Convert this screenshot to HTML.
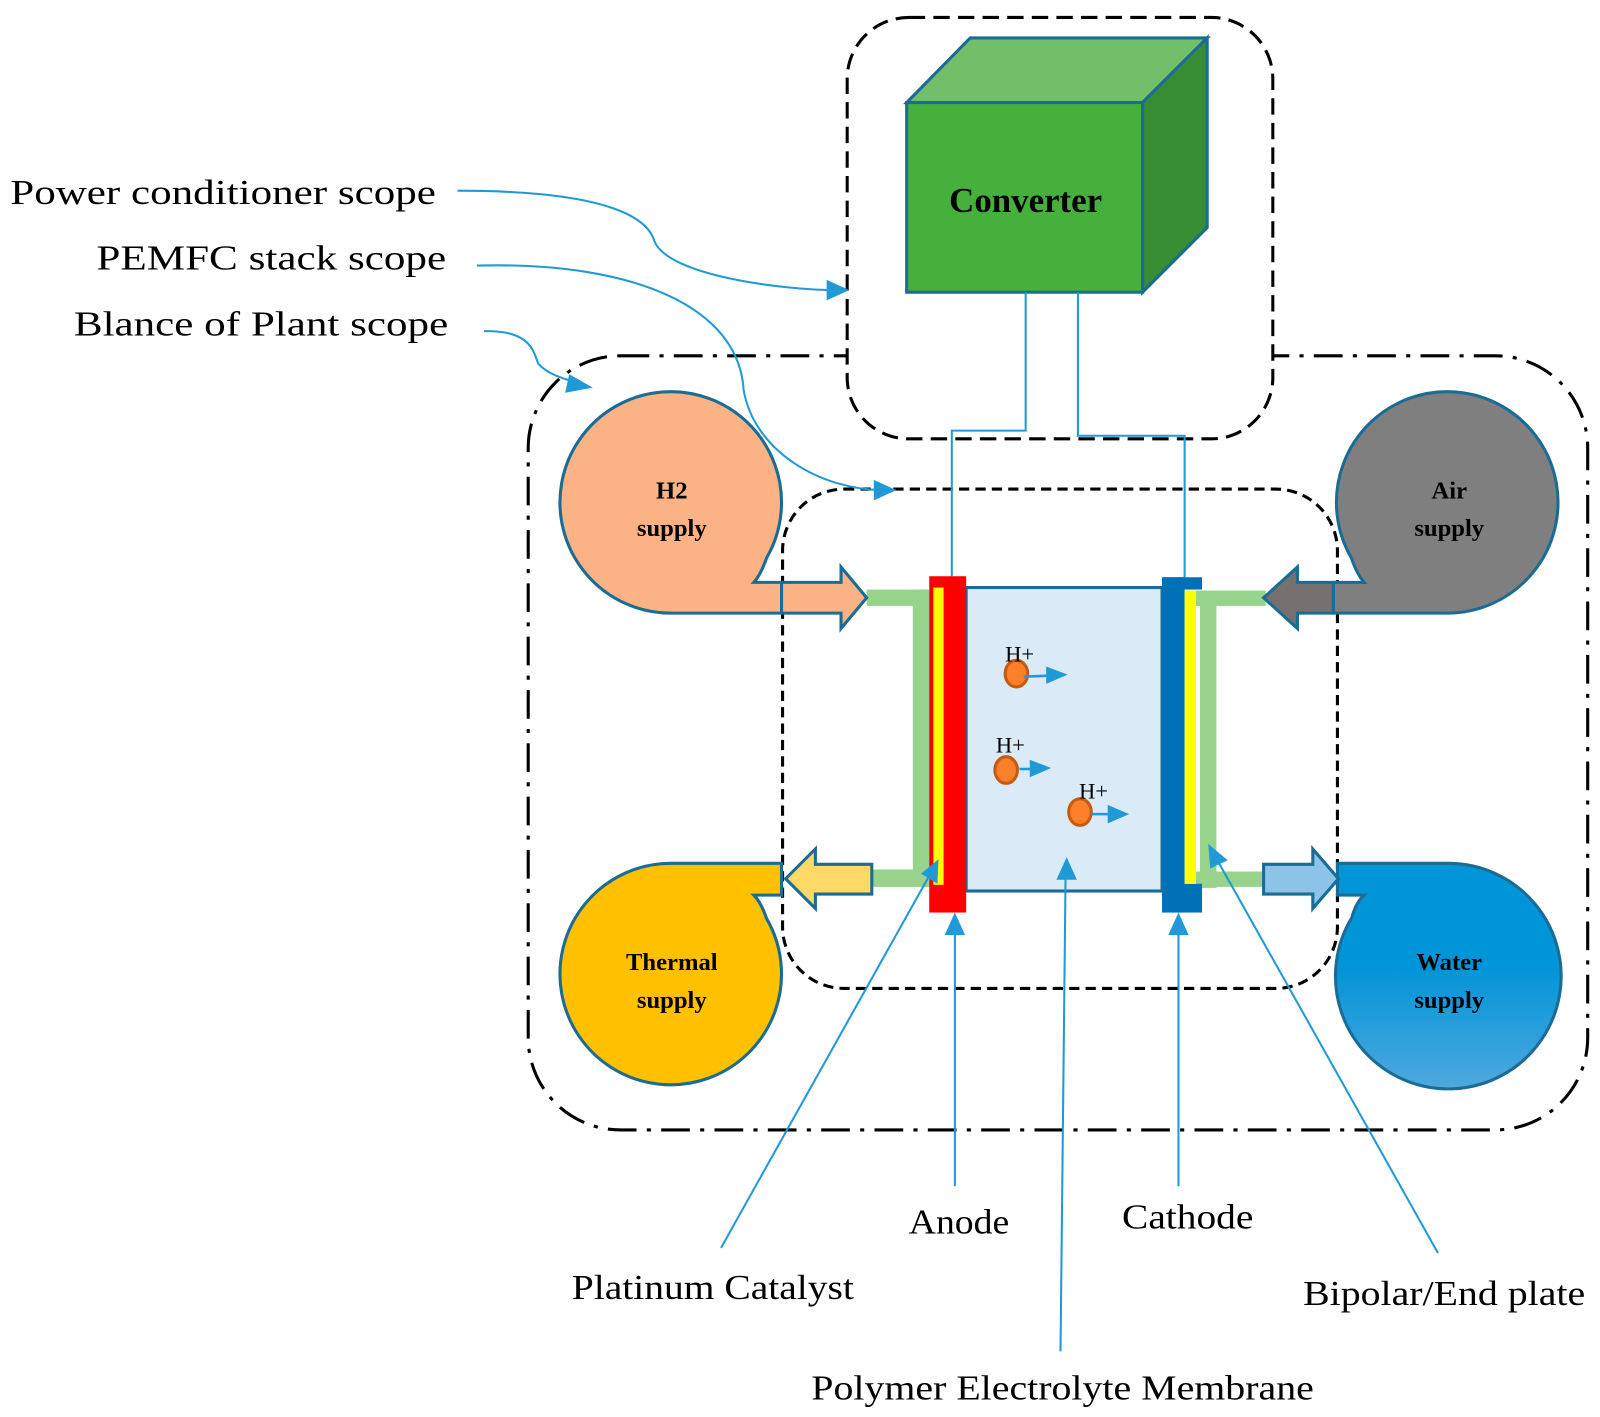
<!DOCTYPE html>
<html><head><meta charset="utf-8"><style>html,body{margin:0;padding:0;background:#fff}svg{display:block}</style></head>
<body>
<svg width="1600" height="1417" viewBox="0 0 1560 1382" preserveAspectRatio="none" xmlns="http://www.w3.org/2000/svg" font-family="Liberation Serif, serif">
<defs>
<marker id="ah" viewBox="0 0 10 10" refX="9" refY="5" markerWidth="7" markerHeight="7" markerUnits="userSpaceOnUse" orient="auto">
</marker>
<linearGradient id="wg" x1="0" y1="0" x2="0" y2="1"><stop offset="0.45" stop-color="#0094d8"/><stop offset="1" stop-color="#4ea8de"/></linearGradient>
</defs>
<!-- BoP -->
<rect x="515" y="347" width="1033" height="755" rx="90" fill="none" stroke="#000" stroke-width="3" stroke-dasharray="28 10 4 10"/>
<!-- PC box -->
<rect x="826" y="17" width="415" height="411" rx="60" fill="#fff" stroke="#000" stroke-width="3" stroke-dasharray="16 8"/>
<!-- PEMFC -->
<rect x="763" y="477" width="541" height="487" rx="60" fill="none" stroke="#000" stroke-width="3" stroke-dasharray="10 6"/>
<!-- cube -->
<polygon points="884,100 946,37 1177,37 1114,100" fill="#72bf69" stroke="#1a6c94" stroke-width="3"/>
<polygon points="1114,100 1177,37 1177,222 1114,285" fill="#378d34" stroke="#1a6c94" stroke-width="3"/>
<rect x="884" y="100" width="230" height="185" fill="#45b03c" stroke="#1a6c94" stroke-width="3"/>
<text x="1000" y="207" font-size="34" font-weight="bold" text-anchor="middle">Converter</text>
<!-- wires -->
<polyline points="1000,285 1000,420 928,420 928,562" fill="none" stroke="#1f9ad6" stroke-width="2"/>
<polyline points="1051,285 1051,425 1155,425 1155,563" fill="none" stroke="#1f9ad6" stroke-width="2"/>
<!-- supplies -->
<path d="M654,598 A108,108 0 1 1 747.5,544 Q742,560 735,568 L762,568 L762,598 Z" fill="#fbb385" stroke="#1a6c94" stroke-width="3"/>
<path d="M1411,598 A108,108 0 1 0 1317.5,544 Q1323,560 1330,568 L1300,568 L1300,598 Z" fill="#7f7f7f" stroke="#1a6c94" stroke-width="3"/>
<path d="M654,842 A108,108 0 1 0 747.5,896 Q742,880 735,873 L762,873 L762,842 Z" fill="#ffc000" stroke="#1a6c94" stroke-width="3"/>
<path d="M1413,842 A110,110 0 1 1 1318,895 Q1322,880 1330,873 L1304,873 L1304,842 Z" fill="url(#wg)" stroke="#1a6c94" stroke-width="3"/>
<g font-size="24" font-weight="bold" text-anchor="middle">
<text x="655" y="486">H2</text><text x="655" y="523">supply</text>
<text x="1413" y="486">Air</text><text x="1413" y="523">supply</text>
<text x="655" y="946">Thermal</text><text x="655" y="983">supply</text>
<text x="1413" y="946">Water</text><text x="1413" y="983">supply</text>
</g>
<!-- green pipes -->
<g fill="#97d38b">
<rect x="845" y="575" width="60" height="16"/><rect x="890" y="575" width="16" height="290"/><rect x="850" y="848" width="56" height="17"/>
<rect x="1166" y="576" width="68" height="15"/><rect x="1170" y="576" width="16" height="290"/><rect x="1166" y="850" width="66" height="15"/>
</g>
<!-- arrows -->
<polygon points="762,568 820,568 820,553 845,583 820,613 820,598 762,598" fill="#fbb385" stroke="#1a6c94" stroke-width="3"/>
<polygon points="1300,568 1265,568 1265,553 1232,583 1265,613 1265,598 1300,598" fill="#76706f" stroke="#1a6c94" stroke-width="3"/>
<polygon points="850,843 795,843 795,828 766,857 795,886 795,872 850,872" fill="#ffd966" stroke="#1a6c94" stroke-width="3"/>
<polygon points="1232,843 1280,843 1280,828 1305,857 1280,886 1280,872 1232,872" fill="#8dc3e6" stroke="#1a6c94" stroke-width="3"/>
<!-- cell -->
<rect x="942" y="573" width="191" height="296" fill="#dbeaf7" stroke="#1a6c94" stroke-width="3"/>
<rect x="906" y="562" width="36" height="328" fill="#ff0000"/>
<rect x="910" y="573" width="10" height="290" fill="#ffff00"/>
<rect x="1133" y="563" width="22" height="327" fill="#0070b8"/>
<rect x="1133" y="563" width="39" height="12" fill="#0070b8"/>
<rect x="1133" y="862" width="39" height="28" fill="#0070b8"/>
<rect x="1155" y="576" width="11" height="286" fill="#ffff00"/>
<!-- ions -->
<g fill="#fd7f2a" stroke="#c55a11" stroke-width="3">
<ellipse cx="991" cy="657" rx="11" ry="13"/><ellipse cx="981" cy="751" rx="11" ry="13"/><ellipse cx="1053" cy="792" rx="11" ry="13"/>
</g>
<g stroke="#1f9ad6" stroke-width="2.5" fill="#1f9ad6">
<line x1="998" y1="660" x2="1022" y2="659"/><polygon points="1020,650 1041,658 1020,667" stroke="none"/>
<line x1="994" y1="750" x2="1006" y2="750"/><polygon points="1004,741 1025,749 1004,758" stroke="none"/>
<line x1="1064" y1="794" x2="1082" y2="794"/><polygon points="1080,785 1101,794 1080,803" stroke="none"/>
</g>
<g font-size="22"><text x="980" y="645">H+</text><text x="971" y="734">H+</text><text x="1052" y="779">H+</text></g>
<!-- label leaders -->
<g stroke="#1f9ad6" stroke-width="2" fill="none">
<path d="M446,186 C600,186 632,215 638,235 C650,268 760,283 818,283"/>
<path d="M465,259 C620,255 720,300 725,380 C735,440 800,478 862,478"/>
<path d="M472,323 C520,322 520,345 525,355 C535,366 552,370 568,375"/>
<line x1="703" y1="1217" x2="910" y2="847"/>
<line x1="931" y1="1157" x2="931" y2="900"/>
<line x1="1034" y1="1318" x2="1039" y2="846"/>
<line x1="1149" y1="1157" x2="1149" y2="900"/>
<line x1="1402" y1="1222" x2="1183" y2="832"/>
</g>
<g fill="#1f9ad6">
<polygon points="828,283 806,273 806,293"/>
<polygon points="874,478 852,468 852,488"/>
<polygon points="578,378 555,365 551,383"/>
<polygon points="915,838 914,862 898,852"/>
<polygon points="931,890 921,912 941,912"/>
<polygon points="1040,836 1030,858 1050,858"/>
<polygon points="1149,890 1139,912 1159,912"/>
<polygon points="1178,823 1197,839 1180,847"/>
</g>
<!-- text labels -->
<g font-size="34">
<text x="425" y="199" text-anchor="end" textLength="415" lengthAdjust="spacingAndGlyphs">Power conditioner  scope</text>
<text x="435" y="263" text-anchor="end" textLength="341" lengthAdjust="spacingAndGlyphs">PEMFC stack scope</text>
<text x="437" y="327" text-anchor="end" textLength="365" lengthAdjust="spacingAndGlyphs">Blance of Plant scope</text>
<text x="935" y="1203" text-anchor="middle" textLength="98" lengthAdjust="spacingAndGlyphs">Anode</text>
<text x="1158" y="1198" text-anchor="middle" textLength="128" lengthAdjust="spacingAndGlyphs">Cathode</text>
<text x="695" y="1267" text-anchor="middle" textLength="275" lengthAdjust="spacingAndGlyphs">Platinum Catalyst</text>
<text x="1036" y="1365" text-anchor="middle" textLength="490" lengthAdjust="spacingAndGlyphs">Polymer Electrolyte Membrane</text>
<text x="1408" y="1273" text-anchor="middle" textLength="275" lengthAdjust="spacingAndGlyphs">Bipolar/End plate</text>
</g>
</svg>
</body></html>
